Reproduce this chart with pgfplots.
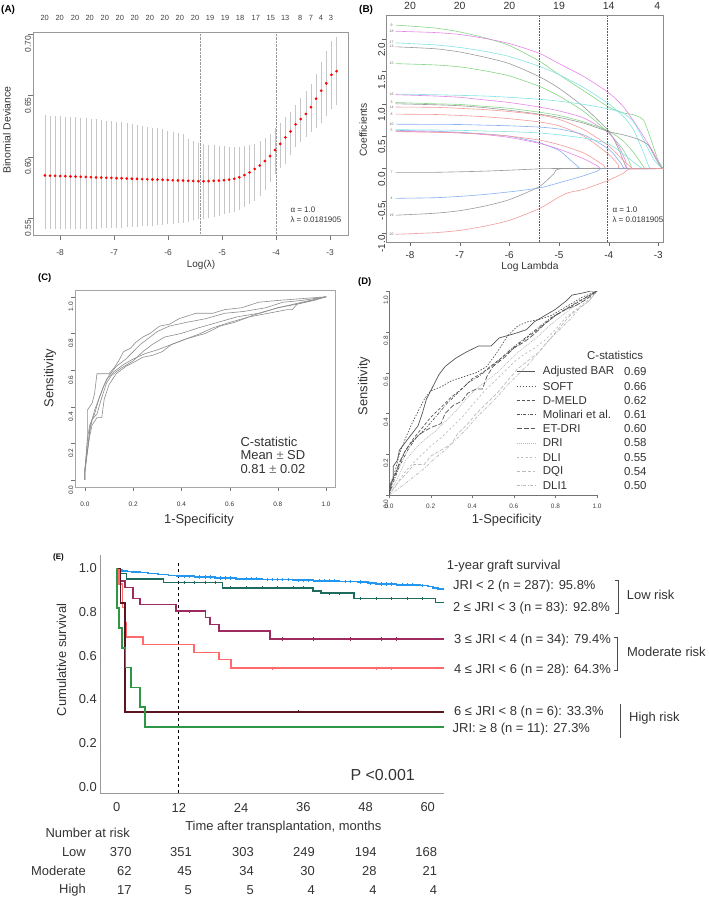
\documentclass[border=0pt]{standalone}
\usepackage{pgfplots}
\pgfplotsset{compat=1.18}
\usepackage{pgfplotstable}
\usepackage{fontspec}
\setmainfont{Liberation Sans}
\newcommand{\fs}[1]{\fontsize{#1}{#1}\selectfont}
\definecolor{Bgreen}{HTML}{86D686}
\definecolor{Bmag}{HTML}{E585E5}
\definecolor{Bcyan}{HTML}{85E3E3}
\definecolor{Bgray}{HTML}{9A9A9A}
\definecolor{Bblue}{HTML}{88B0F0}
\definecolor{Bpink}{HTML}{F29A9A}
\definecolor{Eblue}{HTML}{2396F0}
\definecolor{Eteal}{HTML}{1F6B60}
\definecolor{Epurple}{HTML}{9E2B5F}
\definecolor{Esalmon}{HTML}{FF6B6B}
\definecolor{Emaroon}{HTML}{5A1520}
\definecolor{Egreen}{HTML}{2E9645}
\definecolor{Ddark}{HTML}{555555}
\definecolor{Dlight}{HTML}{BBBBBB}
\definecolor{Cgray}{HTML}{8C8C8C}
\definecolor{txt}{HTML}{333333}
\tikzset{
  dSOLID/.style={solid},
  dSOFT/.style={dash pattern=on 1.5pt off 1.5pt},
  dMELD/.style={dash pattern=on 3pt off 2pt},
  dMOL/.style={dash pattern=on 3pt off 1.5pt on 0.8pt off 1.5pt},
  dET/.style={dash pattern=on 5pt off 2pt},
  dDRI/.style={dash pattern=on 1pt off 1pt},
  dDLI/.style={dash pattern=on 2pt off 2.5pt},
  dDQI/.style={dash pattern=on 3.5pt off 2pt},
  dDLIone/.style={dash pattern=on 3pt off 1.5pt on 0.8pt off 1.5pt},
  Eline/.style={line width=1.6bp, const plot, mark=none},
  Ecens/.style={only marks, mark=|, mark size=1.6bp, mark options={line width=0.5bp}},
}

\pgfplotstableread{
x y u l
-8.280 .5847 .6320 .5425
-8.185 .5845 .6318 .5425
-8.091 .5844 .6315 .5426
-7.996 .5842 .6312 .5426
-7.901 .5841 .6309 .5427
-7.807 .5839 .6306 .5427
-7.712 .5838 .6303 .5428
-7.617 .5836 .6300 .5428
-7.522 .5835 .6296 .5429
-7.428 .5833 .6292 .5430
-7.333 .5831 .6288 .5431
-7.238 .5830 .6283 .5432
-7.144 .5828 .6278 .5433
-7.049 .5827 .6273 .5434
-6.954 .5825 .6268 .5436
-6.860 .5824 .6262 .5438
-6.765 .5822 .6256 .5440
-6.670 .5820 .6250 .5442
-6.575 .5819 .6243 .5445
-6.481 .5817 .6236 .5448
-6.386 .5816 .6229 .5451
-6.291 .5814 .6221 .5454
-6.197 .5813 .6213 .5458
-6.102 .5811 .6205 .5462
-6.007 .5810 .6196 .5466
-5.913 .5808 .6186 .5470
-5.818 .5806 .6176 .5475
-5.723 .5805 .6165 .5480
-5.628 .5803 .6130 .5486
-5.534 .5802 .6110 .5498
-5.439 .5800 .6095 .5505
-5.344 .5800 .6088 .5512
-5.250 .5801 .6082 .5520
-5.155 .5803 .6076 .5528
-5.060 .5805 .6071 .5537
-4.966 .5808 .6067 .5547
-4.871 .5813 .6064 .5558
-4.776 .5820 .6062 .5570
-4.681 .5832 .6062 .5585
-4.587 .5850 .6066 .5605
-4.492 .5872 .6075 .5630
-4.397 .5900 .6090 .5660
-4.303 .5928 .6110 .5700
-4.208 .5965 .6135 .5750
-4.113 .6005 .6170 .5810
-4.019 .6055 .6215 .5880
-3.924 .6105 .6260 .5925
-3.829 .6158 .6305 .5960
-3.734 .6207 .6350 .6030
-3.640 .6265 .6405 .6100
-3.545 .6308 .6460 .6140
-3.450 .6350 .6520 .6180
-3.356 .6405 .6580 .6220
-3.261 .6475 .6660 .6255
-3.166 .6540 .6760 .6290
-3.072 .6600 .6850 .6355
-2.977 .6670 .6930 .6405
-2.882 .6700 .6960 .6440
}\tabA

\begin{document}
\begin{tikzpicture}
\path[use as bounding box] (0,0) rectangle (709bp,-899bp);

%================= PANEL A =================
\begin{axis}[scale only axis, anchor=south west, at={(33bp,-235bp)},
  width=315bp, height=203bp,
  xmin=-8.50, xmax=-2.67, ymin=0.536, ymax=0.702,
  /pgf/number format/assume math mode=true,
  axis line style={draw=black!40},
  tick align=outside, major tick length=5bp, tick style={draw=black!55},
  xtick pos=bottom, ytick pos=left,
  xtick={-8,-7,-6,-5,-4,-3}, xticklabels={-8,-7,-6,-5,-4,-3},
  ytick={0.55,0.60,0.65,0.70}, yticklabels={0.55,0.60,0.65,0.70},
  ticklabel style={font=\fs{8.5}, text=black!75, inner sep=0pt},
  xticklabel style={anchor=center, yshift=-13bp},
  yticklabel style={rotate=90, anchor=center, xshift=-10bp},
  clip=false]
\addplot[draw=none, mark=none, error bars/.cd, y dir=both, y explicit, error mark=-,
  error bar style={draw=black!22, line width=0.45bp},
  error mark options={draw=black!22, mark size=2.2bp, line width=0.45bp}]
  table[x=x, y=y, y error plus expr=\thisrow{u}-\thisrow{y}, y error minus expr=\thisrow{y}-\thisrow{l}] {\tabA};
\addplot[only marks, mark=*, mark size=1.15bp, red, mark options={draw=red, fill=red}] table[x=x, y=y] {\tabA};
\addplot[densely dotted, black!40, mark=none] coordinates {(-5.41,0.536)(-5.41,0.702)};
\addplot[densely dotted, black!40, mark=none] coordinates {(-4.007,0.536)(-4.007,0.702)};
\end{axis}
\begin{axis}[scale only axis, anchor=south west, at={(33bp,-235bp)},
  width=315bp, height=203bp,
  xmin=-8.50, xmax=-2.67, ymin=0.536, ymax=0.702,
  hide y axis, axis x line*=top, axis line style={draw=none}, major tick length=0pt,
  xtick={-8.283,-8.006,-7.722,-7.45,-7.172,-6.894,-6.617,-6.339,-6.061,-5.783,-5.5,-5.222,-4.944,-4.667,-4.376,-4.098,-3.833,-3.556,-3.357,-3.172,-2.987},
  xticklabels={20,20,20,20,20,20,20,20,20,20,20,19,19,18,17,15,13,8,7,4,3},
  xticklabel style={font=\fs{7.5}, text=black!75, anchor=center, inner sep=0pt, yshift=14bp}]
\addplot[draw=none] coordinates {(-8,0.6)};
\end{axis}
\node[font=\fs{10.5}, text=txt, rotate=90] at (7bp,-130bp) {Binomial Deviance};
\node[font=\fs{10}, text=txt] at (201bp,-265bp) {Log(λ)};
\node[font=\fs{8}, text=txt, anchor=west] at (287bp,-210bp) {α = 1.0};
\node[font=\fs{8}, text=txt, anchor=west] at (287bp,-220bp) {λ = 0.0181905};
\node[font=\bfseries\fs{10}, anchor=west, inner sep=0pt] at (1bp,-10bp) {(A)};

%================= PANEL B =================
\begin{axis}[scale only axis, anchor=south west, at={(385.7bp,-242bp)},
  width=277.6bp, height=226.3bp,
  xmin=-8.49, xmax=-2.90, ymin=-1.134, ymax=2.36,
  /pgf/number format/assume math mode=true,
  axis line style={draw=black!45},
  tick align=outside, major tick length=4bp, tick style={draw=black!60},
  xtick pos=bottom, ytick pos=left,
  xtick={-8,-7,-6,-5,-4,-3}, xticklabels={-8,-7,-6,-5,-4,-3},
  ytick={-1,-0.5,0,0.5,1,1.5,2}, yticklabels={-1.0,-0.5,0.0,0.5,1.0,1.5,2.0},
  ticklabel style={font=\fs{10}, text=black!80, inner sep=0pt},
  xticklabel style={anchor=center, yshift=-8.7bp},
  yticklabel style={rotate=90, anchor=center, xshift=-10.7bp},
  every axis plot/.append style={line width=0.6bp, smooth, tension=0.4},
  clip=false]
\addplot[Bgreen] coordinates {(-8.29,2.215)(-7.5,2.17)(-7,2.11)(-6.5,2.02)(-6,1.90)(-5.4,1.66)(-5,1.45)(-4.5,1.20)(-4,0.95)(-3.7,0.86)(-3.5,0.83)(-3.3,0.75)(-3.15,0.45)(-3.0,0.12)(-2.9,0)};
\addplot[Bmag] coordinates {(-8.29,2.12)(-7.5,2.10)(-7,2.07)(-6.5,2.01)(-6,1.93)(-5.4,1.78)(-5,1.62)(-4.5,1.42)(-4,1.17)(-3.7,0.95)(-3.4,0.62)(-3.1,0.25)(-2.95,0.03)(-2.9,0)};
\addplot[Bcyan] coordinates {(-8.29,1.94)(-7.5,1.91)(-7,1.87)(-6.5,1.81)(-6,1.73)(-5.4,1.58)(-5,1.45)(-4.5,1.25)(-4,1.00)(-3.7,0.80)(-3.5,0.60)(-3.3,0.25)(-3.2,0.05)(-3.15,0)(-2.9,0)};
\addplot[Bgray] coordinates {(-8.29,1.88)(-7.5,1.85)(-7,1.80)(-6.5,1.72)(-6,1.62)(-5.4,1.42)(-5,1.24)(-4.5,0.95)(-4,0.58)(-3.8,0.30)(-3.65,0.02)(-3.6,0)(-2.9,0)};
\addplot[Bgreen] coordinates {(-8.29,1.62)(-7.5,1.60)(-7,1.57)(-6.5,1.51)(-6,1.43)(-5.4,1.27)(-5,1.12)(-4.5,0.88)(-4,0.55)(-3.7,0.28)(-3.55,0.05)(-3.5,0)(-2.9,0)};
\addplot[Bcyan] coordinates {(-8.29,1.15)(-7.5,1.14)(-7,1.13)(-6.5,1.12)(-6,1.10)(-5.4,1.07)(-5,1.04)(-4.5,0.99)(-4,0.92)(-3.7,0.85)(-3.5,0.72)(-3.3,0.45)(-3.1,0.15)(-2.95,0.02)(-2.9,0)};
\addplot[Bmag] coordinates {(-8.29,1.14)(-7.5,1.12)(-7,1.10)(-6.5,1.06)(-6,1.02)(-5.4,0.95)(-5,0.89)(-4.5,0.78)(-4,0.55)(-3.8,0.35)(-3.65,0.10)(-3.6,0)(-2.9,0)};
\addplot[Bgreen] coordinates {(-8.29,1.02)(-7.5,1.00)(-7,0.99)(-6.5,0.96)(-6,0.93)(-5.4,0.87)(-5,0.82)(-4.5,0.72)(-4,0.58)(-3.7,0.42)(-3.5,0.25)(-3.3,0.03)(-3.25,0)(-2.9,0)};
\addplot[Bgray] coordinates {(-8.29,1.00)(-7.5,0.985)(-7,0.97)(-6.5,0.94)(-6,0.90)(-5.4,0.84)(-5,0.79)(-4.5,0.70)(-4,0.57)(-3.7,0.52)(-3.4,0.45)(-3.2,0.36)(-3.05,0.15)(-2.95,0.03)(-2.9,0)};
\addplot[Bpink] coordinates {(-8.29,0.95)(-7.5,0.945)(-7,0.93)(-6.5,0.91)(-6,0.88)(-5.4,0.83)(-5,0.76)(-4.5,0.60)(-4,0.35)(-3.7,0.12)(-3.55,0.02)(-3.5,0)(-2.9,0)};
\addplot[Bpink] coordinates {(-8.29,0.84)(-7.5,0.835)(-7,0.82)(-6.5,0.80)(-6,0.77)(-5.4,0.72)(-5,0.66)(-4.5,0.50)(-4,0.22)(-3.8,0.05)(-3.75,0)(-2.9,0)};
\addplot[Bblue] coordinates {(-8.29,0.685)(-7.5,0.682)(-7,0.68)(-6.5,0.67)(-6,0.66)(-5.4,0.64)(-5,0.61)(-4.5,0.52)(-4,0.30)(-3.75,0.08)(-3.65,0)(-2.9,0)};
\addplot[Bcyan] coordinates {(-8.29,0.60)(-7.5,0.595)(-7,0.59)(-6.5,0.58)(-6,0.57)(-5.4,0.55)(-5,0.52)(-4.5,0.47)(-4,0.38)(-3.7,0.22)(-3.4,0.04)(-3.3,0)(-2.9,0)};
\addplot[Bblue] coordinates {(-8.29,0.59)(-7.5,0.575)(-7,0.56)(-6.5,0.535)(-6,0.50)(-5.4,0.40)(-5,0.28)(-4.8,0.15)(-4.6,0.02)(-4.55,0)(-2.9,0)};
\addplot[Bmag] coordinates {(-8.29,0.575)(-7.5,0.565)(-7,0.55)(-6.5,0.525)(-6,0.48)(-5.4,0.39)(-5,0.30)(-4.5,0.15)(-4.2,0.03)(-4.1,0)(-2.9,0)};
\addplot[Bpink] coordinates {(-8.29,0.57)(-7.5,0.56)(-7,0.55)(-6.5,0.53)(-6,0.50)(-5.4,0.44)(-5,0.37)(-4.5,0.24)(-4.1,0.05)(-4.0,0)(-2.9,0)};
\addplot[Bgray] coordinates {(-8.29,-0.06)(-7.5,-0.058)(-7,-0.05)(-6.5,-0.04)(-6,-0.025)(-5.4,-0.005)(-5.2,0)(-2.9,0)};
\addplot[Bblue] coordinates {(-8.29,-0.46)(-7.5,-0.45)(-7,-0.43)(-6.5,-0.40)(-6,-0.36)(-5.4,-0.30)(-5,-0.22)(-4.5,-0.11)(-4.2,-0.03)(-4.1,0)(-2.9,0)};
\addplot[Bgray] coordinates {(-8.29,-0.72)(-7.5,-0.69)(-7,-0.65)(-6.5,-0.58)(-6,-0.48)(-5.4,-0.28)(-5.1,-0.08)(-4.9,0)(-2.9,0)};
\addplot[Bpink] coordinates {(-8.29,-1.015)(-7.5,-0.99)(-7,-0.955)(-6.5,-0.89)(-6,-0.80)(-5.4,-0.62)(-5,-0.44)(-4.8,-0.37)(-4.5,-0.32)(-4,-0.18)(-3.7,-0.07)(-3.55,0)(-2.9,0)};
\addplot[densely dotted, black!65, line width=0.5bp, sharp plot] coordinates {(-5.40,-1.134)(-5.40,2.36)};
\addplot[densely dotted, black!65, line width=0.5bp, sharp plot] coordinates {(-4.03,-1.134)(-4.03,2.36)};
\node[font=\fs{3.5}, text=black!60, inner sep=0pt] at (axis cs:-8.37,2.215) {9};
\node[font=\fs{3.5}, text=black!60, inner sep=0pt] at (axis cs:-8.37,2.12) {18};
\node[font=\fs{3.5}, text=black!60, inner sep=0pt] at (axis cs:-8.37,1.95) {17};
\node[font=\fs{3.5}, text=black!60, inner sep=0pt] at (axis cs:-8.37,1.88) {13};
\node[font=\fs{3.5}, text=black!60, inner sep=0pt] at (axis cs:-8.37,1.62) {15};
\node[font=\fs{3.5}, text=black!60, inner sep=0pt] at (axis cs:-8.37,1.15) {16};
\node[font=\fs{3.5}, text=black!60, inner sep=0pt] at (axis cs:-8.37,1.03) {3};
\node[font=\fs{3.5}, text=black!60, inner sep=0pt] at (axis cs:-8.37,0.95) {14};
\node[font=\fs{3.5}, text=black!60, inner sep=0pt] at (axis cs:-8.37,0.84) {8};
\node[font=\fs{3.5}, text=black!60, inner sep=0pt] at (axis cs:-8.37,0.685) {10};
\node[font=\fs{3.5}, text=black!60, inner sep=0pt] at (axis cs:-8.37,0.59) {5};
\node[font=\fs{3.5}, text=black!60, inner sep=0pt] at (axis cs:-8.37,-0.06) {7};
\node[font=\fs{3.5}, text=black!60, inner sep=0pt] at (axis cs:-8.37,-0.46) {4};
\node[font=\fs{3.5}, text=black!60, inner sep=0pt] at (axis cs:-8.37,-0.72) {19};
\node[font=\fs{3.5}, text=black!60, inner sep=0pt] at (axis cs:-8.37,-1.015) {20};
\end{axis}
\begin{axis}[scale only axis, anchor=south west, at={(385.7bp,-242bp)},
  width=277.6bp, height=226.3bp,
  xmin=-8.49, xmax=-2.90, ymin=-1.134, ymax=2.36,
  hide y axis, axis x line*=top, axis line style={draw=none}, major tick length=0pt,
  xtick={-8,-7,-6,-5,-4,-3.02}, xticklabels={20,20,20,19,14,4},
  xticklabel style={font=\fs{10.5}, text=black!80, anchor=center, inner sep=0pt, yshift=9.7bp}]
\addplot[draw=none] coordinates {(-8,0)};
\end{axis}
\node[font=\fs{10.3}, text=txt, rotate=90] at (363.3bp,-130bp) {Coefficients};
\node[font=\fs{10.3}, text=txt] at (530bp,-266.7bp) {Log Lambda};
\node[font=\fs{8}, text=txt, anchor=west] at (609bp,-209.3bp) {α = 1.0};
\node[font=\fs{8}, text=txt, anchor=west] at (609bp,-219.3bp) {λ = 0.0181905};
\node[font=\bfseries\fs{10}, anchor=west, inner sep=0pt] at (359bp,-10bp) {(B)};

%================= PANEL C =================
\begin{axis}[scale only axis, anchor=south west, at={(75bp,-486.7bp)},
  width=260bp, height=196.7bp,
  xmin=-0.041, xmax=1.037, ymin=-0.037, ymax=1.037,
  /pgf/number format/assume math mode=true,
  axis line style={draw=black!35},
  tick align=outside, major tick length=4bp, tick style={draw=black!55},
  xtick pos=bottom, ytick pos=left,
  xtick={0,0.2,0.4,0.6,0.8,1}, xticklabels={0.0,0.2,0.4,0.6,0.8,1.0},
  ytick={0,0.2,0.4,0.6,0.8,1}, yticklabels={0.0,0.2,0.4,0.6,0.8,1.0},
  ticklabel style={font=\fs{6.5}, text=black!80, inner sep=0pt},
  xticklabel style={anchor=center, yshift=-13.3bp},
  yticklabel style={rotate=90, anchor=center, xshift=-10bp}]
\addplot[Cgray, line width=0.6bp, mark=none] coordinates {(0,0)(0,0.05)(0.01,0.2)(0.01,0.38)(0.03,0.42)(0.04,0.47)(0.05,0.58)(0.1,0.58)(0.12,0.61)(0.14,0.65)(0.16,0.70)(0.19,0.72)(0.21,0.75)(0.24,0.78)(0.27,0.80)(0.31,0.84)(0.35,0.85)(0.39,0.88)(0.46,0.91)(0.53,0.91)(0.58,0.93)(0.65,0.94)(0.72,0.97)(0.8,0.98)(0.9,0.99)(1,1)};
\addplot[Cgray, line width=0.6bp, mark=none] coordinates {(0,0)(0,0.05)(0.01,0.22)(0.02,0.30)(0.04,0.36)(0.06,0.45)(0.08,0.52)(0.1,0.57)(0.13,0.62)(0.17,0.66)(0.2,0.70)(0.23,0.74)(0.27,0.78)(0.3,0.81)(0.35,0.84)(0.42,0.86)(0.5,0.88)(0.58,0.91)(0.66,0.92)(0.75,0.94)(0.82,0.97)(0.9,0.98)(1,1)};
\addplot[Cgray, line width=0.6bp, mark=none] coordinates {(0,0)(0,0.05)(0.02,0.26)(0.03,0.33)(0.05,0.36)(0.07,0.45)(0.09,0.53)(0.11,0.57)(0.15,0.61)(0.2,0.65)(0.24,0.70)(0.28,0.74)(0.33,0.78)(0.4,0.80)(0.47,0.83)(0.55,0.86)(0.63,0.89)(0.72,0.91)(0.8,0.94)(0.88,0.96)(0.95,0.98)(1,1)};
\addplot[Cgray, line width=0.6bp, mark=none] coordinates {(0,0)(0,0.06)(0.02,0.24)(0.03,0.30)(0.05,0.34)(0.07,0.34)(0.08,0.44)(0.1,0.52)(0.13,0.58)(0.17,0.62)(0.2,0.64)(0.24,0.67)(0.28,0.68)(0.32,0.70)(0.36,0.74)(0.42,0.77)(0.48,0.80)(0.53,0.83)(0.6,0.86)(0.68,0.89)(0.76,0.91)(0.84,0.93)(0.86,0.93)(0.88,0.96)(1,1)};
\addplot[Cgray, line width=0.6bp, mark=none] coordinates {(0,0)(0,0.04)(0.01,0.15)(0.02,0.28)(0.04,0.38)(0.06,0.45)(0.09,0.55)(0.12,0.59)(0.16,0.63)(0.2,0.66)(0.25,0.69)(0.3,0.71)(0.36,0.74)(0.42,0.77)(0.5,0.80)(0.56,0.84)(0.62,0.86)(0.7,0.90)(0.8,0.94)(0.9,0.97)(1,1)};
\end{axis}
\node[font=\fs{13}, text=txt, rotate=90] at (50bp,-378bp) {Sensitivity};
\node[font=\fs{13}, text=txt] at (199bp,-520.5bp) {1-Specificity};
\node[font=\fs{13}, text=txt, anchor=west] at (237bp,-441.7bp) {C-statistic};
\node[font=\fs{13}, text=txt, anchor=west] at (237bp,-455.3bp) {Mean {\color{black!55}±} SD};
\node[font=\fs{13}, text=txt, anchor=west] at (237bp,-469bp) {0.81 {\color{black!55}±} 0.02};
\node[font=\bfseries\fs{9.5}, anchor=west, inner sep=0pt] at (38bp,-278bp) {(C)};

%================= PANEL D =================
\begin{axis}[scale only axis, anchor=south west, at={(389bp,-495bp)},
  width=208bp, height=204bp,
  xmin=0, xmax=1, ymin=0, ymax=1,
  /pgf/number format/assume math mode=true,
  axis x line=bottom, axis y line=left, axis line style={-, draw=black!55},
  tick align=outside, major tick length=3bp, tick style={draw=black!55},
  xtick={0,0.2,0.4,0.6,0.8,1}, xticklabels={0.0,0.2,0.4,0.6,0.8,1.0},
  ytick={0,0.2,0.4,0.6,0.8,1}, yticklabels={0.0,0.2,0.4,0.6,0.8,1.0},
  ticklabel style={font=\fs{6.5}, text=black!75, inner sep=0pt},
  xticklabel style={anchor=center, yshift=-8.3bp},
  yticklabel style={rotate=90, anchor=center, xshift=-9bp},
  every axis plot/.append style={line width=0.7bp}]
\addplot[Dlight, dDLIone] coordinates {(0,0)(0.03,0.02)(0.07,0.05)(0.12,0.09)(0.17,0.13)(0.22,0.18)(0.27,0.22)(0.32,0.27)(0.37,0.32)(0.42,0.38)(0.47,0.43)(0.52,0.48)(0.57,0.54)(0.62,0.59)(0.67,0.64)(0.72,0.70)(0.77,0.76)(0.82,0.81)(0.87,0.86)(0.92,0.92)(0.96,0.95)(1,1)};
\addplot[Dlight, dDQI] coordinates {(0,0)(0.02,0.03)(0.05,0.07)(0.08,0.10)(0.12,0.15)(0.17,0.15)(0.2,0.19)(0.25,0.22)(0.3,0.25)(0.33,0.30)(0.38,0.35)(0.42,0.40)(0.47,0.45)(0.52,0.50)(0.57,0.56)(0.62,0.62)(0.67,0.66)(0.72,0.70)(0.77,0.76)(0.82,0.82)(0.87,0.88)(0.92,0.92)(0.96,0.95)(1,1)};
\addplot[Dlight, dDLI] coordinates {(0,0)(0.03,0.04)(0.06,0.09)(0.1,0.14)(0.15,0.19)(0.2,0.24)(0.25,0.28)(0.3,0.33)(0.35,0.38)(0.4,0.44)(0.45,0.50)(0.5,0.55)(0.55,0.60)(0.6,0.65)(0.65,0.69)(0.7,0.72)(0.75,0.76)(0.8,0.81)(0.85,0.87)(0.9,0.91)(0.95,0.95)(1,1)};
\addplot[Dlight, dDRI] coordinates {(0,0)(0.02,0.04)(0.05,0.10)(0.08,0.17)(0.12,0.22)(0.17,0.27)(0.22,0.31)(0.27,0.36)(0.32,0.41)(0.37,0.47)(0.42,0.52)(0.47,0.56)(0.52,0.60)(0.57,0.65)(0.62,0.70)(0.67,0.74)(0.72,0.78)(0.77,0.83)(0.82,0.87)(0.87,0.91)(0.92,0.94)(0.97,0.98)(1,1)};
\addplot[Ddark, dET] coordinates {(0,0)(0.01,0.05)(0.03,0.10)(0.05,0.16)(0.08,0.22)(0.11,0.26)(0.15,0.30)(0.2,0.33)(0.25,0.35)(0.27,0.40)(0.31,0.44)(0.35,0.46)(0.38,0.50)(0.42,0.52)(0.45,0.52)(0.47,0.58)(0.5,0.63)(0.55,0.67)(0.6,0.72)(0.65,0.75)(0.7,0.79)(0.75,0.84)(0.8,0.88)(0.85,0.91)(0.9,0.93)(0.95,0.96)(1,1)};
\addplot[Ddark, dMOL] coordinates {(0,0)(0.02,0.06)(0.05,0.14)(0.09,0.22)(0.13,0.28)(0.18,0.33)(0.23,0.39)(0.28,0.45)(0.33,0.50)(0.38,0.55)(0.43,0.58)(0.48,0.62)(0.53,0.66)(0.58,0.71)(0.63,0.75)(0.68,0.79)(0.73,0.83)(0.78,0.87)(0.83,0.90)(0.88,0.93)(0.93,0.96)(1,1)};
\addplot[Ddark, dMELD] coordinates {(0,0)(0.02,0.08)(0.05,0.15)(0.08,0.22)(0.12,0.28)(0.16,0.33)(0.2,0.38)(0.25,0.43)(0.3,0.48)(0.35,0.52)(0.4,0.57)(0.45,0.60)(0.5,0.64)(0.55,0.68)(0.6,0.72)(0.65,0.76)(0.7,0.80)(0.75,0.84)(0.8,0.88)(0.85,0.91)(0.9,0.94)(0.95,0.97)(1,1)};
\addplot[Ddark, dSOFT] coordinates {(0,0)(0.01,0.06)(0.03,0.12)(0.05,0.2)(0.08,0.28)(0.11,0.35)(0.14,0.41)(0.17,0.47)(0.2,0.51)(0.25,0.53)(0.3,0.56)(0.36,0.58)(0.42,0.60)(0.47,0.63)(0.52,0.70)(0.57,0.78)(0.62,0.83)(0.67,0.85)(0.72,0.86)(0.78,0.88)(0.83,0.91)(0.88,0.94)(0.93,0.97)(1,1)};
\addplot[Ddark, dSOLID] coordinates {(0,0)(0,0.04)(0.02,0.08)(0.02,0.14)(0.04,0.17)(0.05,0.22)(0.08,0.26)(0.11,0.30)(0.14,0.34)(0.16,0.40)(0.18,0.47)(0.21,0.53)(0.24,0.59)(0.27,0.63)(0.32,0.67)(0.37,0.70)(0.43,0.73)(0.49,0.73)(0.53,0.77)(0.60,0.79)(0.66,0.81)(0.70,0.85)(0.75,0.88)(0.80,0.91)(0.85,0.95)(0.88,0.98)(0.93,0.99)(0.97,1.0)(1,1)};
\end{axis}
\node[font=\fs{13}, text=txt, rotate=90] at (364bp,-386bp) {Sensitivity};
\node[font=\fs{13}, text=txt] at (506.7bp,-520bp) {1-Specificity};
\node[font=\fs{11.5}, text=txt, anchor=east] at (646.7bp,-355bp) {C-statistics};
\foreach \yy/\nm/\vv/\sty/\col in {
  371.7/Adjusted BAR/0.69/dSOLID/Ddark,
  386.3/SOFT/0.66/dSOFT/Ddark,
  400.3/D-MELD/0.62/dMELD/Ddark,
  414.7/Molinari et al./0.61/dMOL/Ddark,
  428.7/ET-DRI/0.60/dET/Ddark,
  443/DRI/0.58/dDRI/Dlight,
  457.3/DLI/0.55/dDLI/Dlight,
  471.3/DQI/0.54/dDQI/Dlight,
  485.7/DLI1/0.50/dDLIone/Dlight}{
  \draw[\col, line width=0.8bp, \sty] (516.7bp,-\yy bp) -- (535bp,-\yy bp);
  \node[font=\fs{11.5}, text=txt, anchor=west, inner sep=0pt] at (542.7bp,-\yy bp) {\nm};
  \node[font=\fs{11.5}, text=txt, anchor=east, inner sep=0pt] at (646.7bp,-\yy bp) {\vv};
}
\node[font=\bfseries\fs{9.5}, anchor=west, inner sep=0pt] at (358bp,-282bp) {(D)};

%================= PANEL E =================
\begin{axis}[scale only axis, anchor=south west, at={(100bp,-793bp)},
  width=344bp, height=238bp,
  xmin=-3.22, xmax=63.14, ymin=-0.029, ymax=1.061,
  /pgf/number format/assume math mode=true,
  axis x line=bottom, axis y line=left, axis line style={-, draw=black!40, line width=0.6bp},
  major tick length=0pt,
  xtick={0,12,24,36,48,60}, xticklabels={0,12,24,36,48,60},
  ytick={0,0.2,0.4,0.6,0.8,1}, yticklabels={0.0,0.2,0.4,0.6,0.8,1.0},
  ticklabel style={font=\fs{13}, text=txt, inner sep=0pt},
  xticklabel style={anchor=center, yshift=-14.5bp},
  yticklabel style={anchor=east, xshift=-3bp},
  clip=false]
\addplot[black, dashed, line width=0.8bp, sharp plot, mark=none] coordinates {(12,-0.029)(12,1.03)};
\addplot[Eblue, Eline] coordinates {(0,1.000)(0.3,0.993)(1,0.989)(2,0.986)(3,0.983)(4.5,0.980)(6,0.976)(8,0.972)(10,0.968)(11.5,0.964)(15,0.960)(19,0.956)(23,0.952)(28,0.949)(34,0.946)(38,0.943)(43,0.940)(46.5,0.937)(48.5,0.932)(50,0.928)(54,0.925)(58.5,0.921)(60,0.916)(61,0.911)(62,0.905)(63.14,0.905)};
\addplot[Eteal, Eline] coordinates {(0,1)(0.2,0.976)(1.9,0.95)(9,0.936)(20.4,0.911)(37.9,0.896)(39.4,0.886)(45.8,0.862)(61.5,0.843)(63.14,0.843)};
\addplot[Epurple, Eline] coordinates {(0,1)(0.6,0.941)(1.6,0.912)(3.2,0.862)(4.5,0.835)(11.4,0.804)(17.1,0.775)(18,0.743)(19.7,0.714)(29.6,0.676)(63.14,0.676)};
\addplot[Esalmon, Eline] coordinates {(0,1)(0.4,0.929)(1.1,0.821)(1.6,0.75)(1.9,0.685)(5.1,0.652)(14.9,0.615)(19.7,0.582)(22.1,0.543)(63.14,0.543)};
\addplot[Emaroon, Eline] coordinates {(0,1)(0.7,0.840)(1.6,0.343)(63.14,0.343)};
\addplot[Egreen, Eline] coordinates {(0,1)(0.1,0.818)(0.4,0.727)(1.0,0.636)(1.7,0.545)(2.8,0.455)(4.5,0.364)(5.5,0.273)(63.14,0.273)};
\addplot[Eblue, Ecens] coordinates {(13,0.964)(14,0.964)(16,0.960)(17,0.960)(18,0.960)(20,0.956)(21,0.956)(22,0.956)(25,0.952)(26,0.952)(27,0.952)(29,0.949)(30,0.949)(31,0.949)(32,0.949)(33,0.949)(35,0.946)(36,0.946)(37,0.946)(39,0.943)(40,0.943)(41,0.943)(42,0.943)(44,0.940)(45,0.940)(47,0.937)(49,0.932)(51,0.928)(52,0.928)(53,0.928)(55,0.925)(56,0.925)(57,0.925)(59,0.921)};
\addplot[Eteal, Ecens] coordinates {(13,0.936)(15,0.936)(17,0.936)(19,0.936)(22,0.911)(25,0.911)(28,0.911)(31,0.911)(34,0.911)(36,0.911)(41,0.886)(43,0.886)(47,0.862)(50,0.862)(53,0.862)(56,0.862)(59,0.862)};
\addplot[Epurple, Ecens] coordinates {(14,0.804)(32,0.676)(38,0.676)(45,0.676)(51,0.676)(54,0.676)};
\addplot[Esalmon, Ecens] coordinates {(30,0.543)(50,0.543)(53,0.543)};
\addplot[Emaroon, Ecens] coordinates {(35,0.343)};
\end{axis}
\node[font=\fs{13}, text=txt, rotate=90] at (61.5bp,-660bp) {Cumulative survival};
\node[font=\fs{13}, text=txt] at (283.3bp,-826.7bp) {Time after transplantation, months};
\node[font=\fs{16}, text=txt, anchor=west] at (347bp,-775bp) {P <0.001};
\node[font=\bfseries\fs{8}, anchor=west, inner sep=0pt] at (53bp,-557bp) {(E)};
\node[font=\fs{13}, text=txt, anchor=west, inner sep=0pt] at (446.7bp,-566bp) {1-year graft survival};
\node[font=\fs{13}, text=txt, anchor=west, inner sep=0pt] at (453bp,-586bp) {JRI < 2 (n = 287): 95.8\%};
\node[font=\fs{13}, text=txt, anchor=west, inner sep=0pt] at (453bp,-608.3bp) {2 ≤ JRI < 3 (n = 83): 92.8\%};
\node[font=\fs{13}, text=txt, anchor=west, inner sep=0pt] at (454bp,-640bp) {3 ≤ JRI < 4 (n = 34): 79.4\%};
\node[font=\fs{13}, text=txt, anchor=west, inner sep=0pt] at (454bp,-670bp) {4 ≤ JRI < 6 (n = 28): 64.3\%};
\node[font=\fs{13}, text=txt, anchor=west, inner sep=0pt] at (454bp,-711.7bp) {6 ≤ JRI < 8 (n = 6): 33.3\%};
\node[font=\fs{13}, text=txt, anchor=west, inner sep=0pt] at (452.5bp,-729.3bp) {JRI: ≥ 8 (n = 11): 27.3\%};
\draw[black!70, line width=0.6bp] (614.5bp,-580.7bp) -- (618.3bp,-580.7bp) -- (618.3bp,-613.3bp) -- (614.5bp,-613.3bp);
\draw[black!70, line width=0.6bp] (613.5bp,-637.3bp) -- (617.3bp,-637.3bp) -- (617.3bp,-670bp) -- (613.5bp,-670bp);
\draw[black!70, line width=0.6bp] (620bp,-704bp) -- (620bp,-738.3bp);
\node[font=\fs{13}, text=txt, anchor=west, inner sep=0pt] at (626.7bp,-595bp) {Low risk};
\node[font=\fs{13}, text=txt, anchor=west, inner sep=0pt] at (627bp,-651.7bp) {Moderate risk};
\node[font=\fs{13}, text=txt, anchor=west, inner sep=0pt] at (629bp,-718.3bp) {High risk};
\node[font=\fs{13}, text=txt, anchor=east, inner sep=0pt] at (130bp,-833.3bp) {Number at risk};
\foreach \yy/\nm in {852.3/Low, 870.7/Moderate, 890/High}{
  \node[font=\fs{13}, text=txt, anchor=east, inner sep=0pt] at (86bp,-\yy bp) {\nm};
}
\foreach \xx/\a/\b/\c in {131.7/370/62/17, 192/351/45/5, 254/303/34/5, 315/249/30/4, 376.7/194/28/4, 437.3/168/21/4}{
  \node[font=\fs{13}, text=txt, anchor=east, inner sep=0pt] at (\xx bp,-852.3bp) {\a};
  \node[font=\fs{13}, text=txt, anchor=east, inner sep=0pt] at (\xx bp,-870.7bp) {\b};
  \node[font=\fs{13}, text=txt, anchor=east, inner sep=0pt] at (\xx bp,-890bp) {\c};
}
\end{tikzpicture}
\end{document}
